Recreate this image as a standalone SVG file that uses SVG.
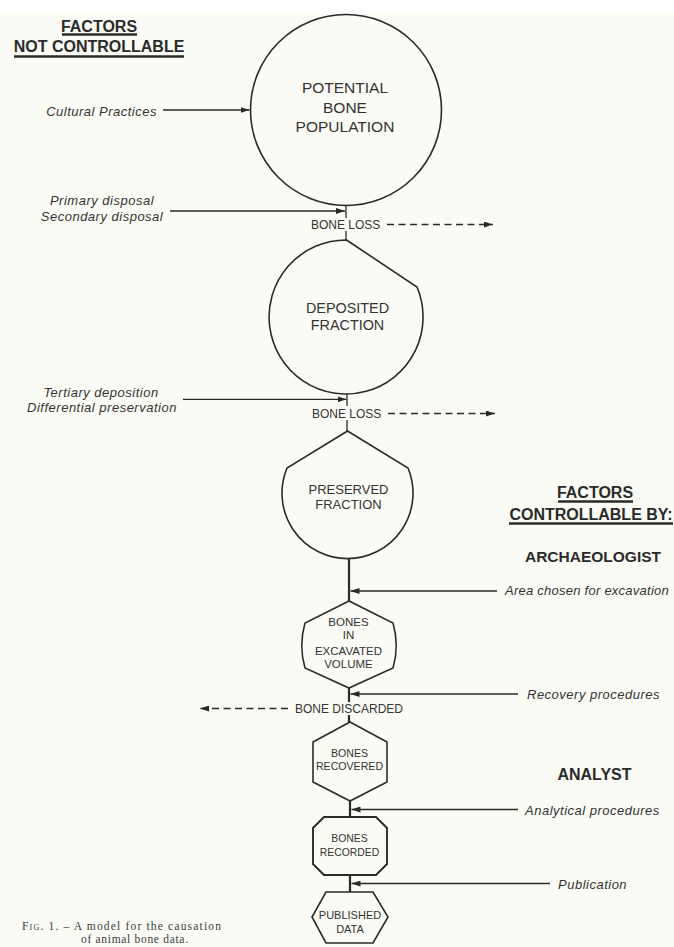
<svg xmlns="http://www.w3.org/2000/svg" width="674" height="947" viewBox="0 0 674 947">
  <defs>
    <marker id="ah" markerWidth="9" markerHeight="6" refX="9" refY="3" orient="auto" markerUnits="userSpaceOnUse">
      <path d="M0,0 L9,3 L0,6 Z" fill="#2a2a2a"/>
    </marker>
    <style>
      .shape { fill: none; stroke: #2a2a2a; stroke-width: 1.6; }
      .link { fill: none; stroke: #2a2a2a; stroke-width: 1.3; }
      .thick { fill: none; stroke: #2a2a2a; stroke-width: 2.2; }
      .dash { fill: none; stroke: #2a2a2a; stroke-width: 1.3; stroke-dasharray: 7 4.5; }
      .node { font-family: "Liberation Sans", Arial, sans-serif; fill: #333; text-anchor: middle; }
      .side { font-family: "Liberation Sans", Arial, sans-serif; font-style: italic; font-size: 13px; letter-spacing: 0.5px; fill: #333; }
      .loss { font-family: "Liberation Sans", Arial, sans-serif; font-size: 12px; fill: #333; }
      .head { font-family: "Liberation Sans", Arial, sans-serif; font-weight: bold; font-size: 16px; fill: #2a2a2a; text-anchor: middle; }
      .uline { stroke: #2a2a2a; stroke-width: 2.4; }
      .cap { font-family: "Liberation Serif", "Times New Roman", serif; font-size: 11.5px; fill: #3a3a3a; }
    </style>
  </defs>

  <rect x="0" y="0" width="674" height="947" fill="#fbfbf5"/>
  <rect x="0" y="0" width="674" height="13" fill="#ffffff"/>

  <!-- Headers -->
  <g id="header-not-controllable">
    <text class="head" x="99" y="32">FACTORS</text>
    <line class="uline" x1="62" y1="34.5" x2="137" y2="34.5"/>
    <text class="head" x="99" y="52">NOT CONTROLLABLE</text>
    <line class="uline" x1="14" y1="56.5" x2="184" y2="56.5"/>
  </g>
  <g id="header-controllable">
    <text class="head" x="595" y="497.5">FACTORS</text>
    <line class="uline" x1="558" y1="501.5" x2="633" y2="501.5"/>
    <text class="head" x="591" y="519.5">CONTROLLABLE BY:</text>
    <line class="uline" x1="509" y1="523.5" x2="673" y2="523.5"/>
    <text class="head" x="593" y="561.5" style="font-size:15.5px">ARCHAEOLOGIST</text>
    <text class="head" x="594.5" y="780">ANALYST</text>
  </g>

  <!-- Nodes -->
  <g id="potential-bone-population">
    <circle class="shape" cx="346" cy="110" r="95.5"/>
    <text class="node" x="345" y="92.7" font-size="15.5">POTENTIAL</text>
    <text class="node" x="345" y="112.5" font-size="15.5">BONE</text>
    <text class="node" x="345" y="132.3" font-size="15.5">POPULATION</text>
  </g>

  <g id="deposited-fraction">
    <path class="shape" d="M346.5,240 L417,287 A77 77 0 1 1 346.5,240 Z"/>
    <text class="node" x="347.5" y="313" font-size="14.4">DEPOSITED</text>
    <text class="node" x="347.5" y="330" font-size="14.4">FRACTION</text>
  </g>

  <g id="preserved-fraction">
    <path class="shape" d="M347.5,431 L287,468 A65.5 65.5 0 1 0 408,468 Z"/>
    <text class="node" x="348.5" y="494.3" font-size="13">PRESERVED</text>
    <text class="node" x="348.5" y="509" font-size="13">FRACTION</text>
  </g>

  <g id="bones-in-excavated-volume">
    <path class="shape" d="M349,601 L305,623 Q298.5,645.5 305,668 L349,688 L393,668 Q399.5,645.5 393,623 Z"/>
    <text class="node" x="348.5" y="626" font-size="11.5">BONES</text>
    <text class="node" x="348.5" y="639.3" font-size="11.5">IN</text>
    <text class="node" x="348.5" y="654.5" font-size="11.5">EXCAVATED</text>
    <text class="node" x="348.5" y="668" font-size="11.5">VOLUME</text>
  </g>

  <g id="bones-recovered">
    <path class="shape" d="M350,722 L387,742 L387,782 L350,801 L313,782 L313,742 Z"/>
    <text class="node" x="349.5" y="757" font-size="10.6">BONES</text>
    <text class="node" x="349.5" y="769.8" font-size="10.6">RECOVERED</text>
  </g>

  <g id="bones-recorded">
    <path class="shape" d="M324,817 L376,817 L387,828 L387,864 L376,875 L324,875 L313,864 L313,828 Z" style="stroke-width:1.9"/>
    <text class="node" x="349.5" y="842" font-size="10.4">BONES</text>
    <text class="node" x="349.5" y="856" font-size="10.4">RECORDED</text>
  </g>

  <g id="published-data">
    <path class="shape" d="M326,892 L373,892 L388,917 L373,943 L326,943 L312,917 Z"/>
    <text class="node" x="350" y="919" font-size="11">PUBLISHED</text>
    <text class="node" x="350" y="932.5" font-size="11">DATA</text>
  </g>

  <!-- Connectors -->
  <g id="connectors">
    <!-- main vertical flow -->
    <line class="link" x1="346" y1="205.5" x2="346" y2="218"/>
    <line class="link" x1="346" y1="231" x2="346" y2="240"/>
    <line class="link" x1="347" y1="394" x2="347" y2="406"/>
    <line class="link" x1="347" y1="420" x2="347" y2="431"/>
    <line class="thick" x1="349" y1="559" x2="349" y2="601"/>
    <line class="thick" x1="349" y1="688" x2="349" y2="702"/>
    <line class="thick" x1="349" y1="715" x2="349" y2="722"/>
    <line class="thick" x1="350" y1="801" x2="350" y2="817"/>
    <line class="thick" x1="350" y1="875" x2="350" y2="892"/>

    <!-- loss labels and dashed arrows -->
    <text class="loss" x="311" y="229.3">BONE LOSS</text>
    <line class="dash" x1="387" y1="224.5" x2="493" y2="224.5" marker-end="url(#ah)"/>
    <text class="loss" x="312" y="418">BONE LOSS</text>
    <line class="dash" x1="388" y1="413.5" x2="495" y2="413.5" marker-end="url(#ah)"/>
    <text class="loss" x="295" y="713.3">BONE DISCARDED</text>
    <line class="dash" x1="288" y1="708.5" x2="200" y2="708.5" marker-end="url(#ah)"/>

    <!-- left inputs (not controllable) -->
    <text class="side" x="157" y="116" text-anchor="end">Cultural Practices</text>
    <line class="link" x1="163" y1="110" x2="249.5" y2="110" marker-end="url(#ah)"/>

    <text class="side" x="102" y="205" text-anchor="middle">Primary disposal</text>
    <text class="side" x="102" y="220.7" text-anchor="middle">Secondary disposal</text>
    <line class="link" x1="170" y1="211" x2="345" y2="211" marker-end="url(#ah)"/>

    <text class="side" x="101" y="396.8" text-anchor="middle">Tertiary deposition</text>
    <text class="side" x="102" y="411.5" text-anchor="middle">Differential preservation</text>
    <line class="link" x1="183" y1="399.3" x2="346.5" y2="399.3" marker-end="url(#ah)"/>

    <!-- right inputs (controllable) -->
    <text class="side" x="505" y="594.8" style="letter-spacing:0.25px">Area chosen for excavation</text>
    <line class="link" x1="497" y1="591" x2="350.5" y2="591" marker-end="url(#ah)"/>

    <text class="side" x="527" y="699">Recovery procedures</text>
    <line class="link" x1="518" y1="694" x2="350.5" y2="694" marker-end="url(#ah)"/>

    <text class="side" x="525" y="814.5">Analytical procedures</text>
    <line class="link" x1="518" y1="809.5" x2="351.5" y2="809.5" marker-end="url(#ah)"/>

    <text class="side" x="558" y="888.5">Publication</text>
    <line class="link" x1="550" y1="883.5" x2="351.5" y2="883.5" marker-end="url(#ah)"/>
  </g>

  <!-- Caption -->
  <g id="caption">
    <text class="cap" x="22" y="930" textLength="199" lengthAdjust="spacing"><tspan font-variant="small-caps">Fig.</tspan> 1.  –  A model for the causation</text>
    <text class="cap" x="81" y="943" textLength="107" lengthAdjust="spacing">of animal bone data.</text>
  </g>
</svg>
